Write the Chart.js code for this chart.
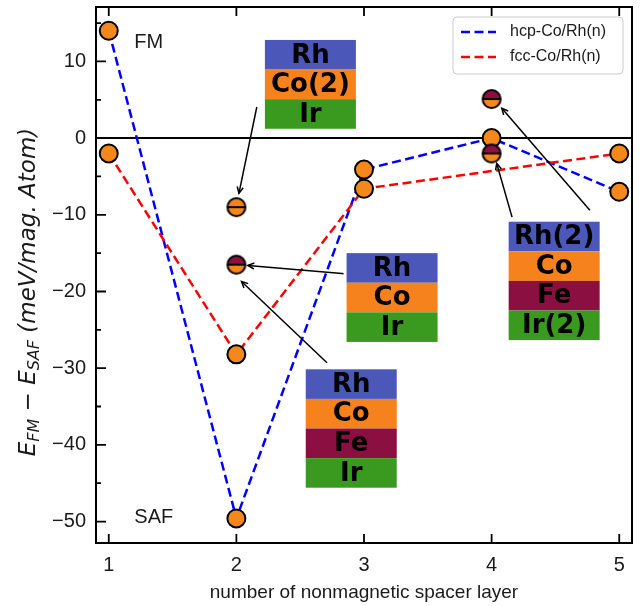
<!DOCTYPE html>
<html>
<head>
<meta charset="utf-8">
<script src="https://cdn.jsdelivr.net/npm/chart.js@4.4.0/dist/chart.umd.min.js"></script>
<style>
  body { margin: 0; background: #fff; }
  #wrap { width: 642px; height: 606px; }
</style>
</head>
<body>
<div id="wrap"><canvas id="c" width="642" height="606"></canvas></div>
<script>
// data
const layers = [1, 2, 3, 4, 5];
const hcpVals = [14.0, -49.6, -4.1, 0.0, -7.0];
const fccVals = [-2.0, -28.2, -6.6, null, -2.0];

// doped stacks, drawn with half filled markers
const dopedX = [2, 2, 4, 4];
const dopedY = [-9.0, -16.5, -2.0, 5.1];
const dopedTop = ['Co', 'Fe', 'Fe', 'Fe'];

const xTicks = [1, 2, 3, 4, 5];
const yTicks = [-50, -40, -30, -20, -10, 0, 10];
const yMinor = [-45, -35, -25, -15, -5, 5, 15];

const legendOrder = ['hcp-Co/Rh(n)', 'fcc-Co/Rh(n)'];

const stackLabels = [
  ['Rh', 'Co(2)', 'Ir'],
  ['Rh', 'Co', 'Ir'],
  ['Rh', 'Co', 'Fe', 'Ir'],
  ['Rh(2)', 'Co', 'Fe', 'Ir(2)']
];
// where each stack sits (center x, top y) in data units
const stackAt = [[2.58, 12.8], [3.22, -15.0], [2.90, -30.15], [4.49, -10.9]];
// arrows: from -> to, data units
const arrows = [
  [[2.16, 4.06], [2.02, -7.2]],
  [[2.85, -17.7], [2.09, -16.6]],
  [[2.71, -29.3], [2.04, -18.7]],
  [[4.16, -10.3], [4.04, -3.3]],
  [[4.77, -9.4], [4.08, 3.9]]
];
const notes = [['FM', 1.2, 11.7], ['SAF', 1.2, -50.2]];

const elemColor = { Rh: '#4c58b9', Co: '#f5821c', Fe: '#8c0f41', Ir: '#3a9a20' };
const face = '#f5881c';
const dash = [9, 4.5];

function halfMarker(topCol) {
  const r = 9, s = 24, c = s / 2;
  const cv = document.createElement('canvas');
  cv.width = s; cv.height = s;
  const g = cv.getContext('2d');
  g.fillStyle = face;
  g.beginPath(); g.arc(c, c, r, 0, 2 * Math.PI); g.fill();
  g.fillStyle = topCol;
  g.beginPath(); g.arc(c, c, r, Math.PI, 2 * Math.PI); g.closePath(); g.fill();
  g.strokeStyle = '#000'; g.lineWidth = 2;
  g.beginPath(); g.moveTo(c - r, c); g.lineTo(c + r, c); g.stroke();
  g.beginPath(); g.arc(c, c, r, 0, 2 * Math.PI); g.stroke();
  return cv;
}
const dopedMarkers = dopedTop.map(e => halfMarker(elemColor[e]));

const minus = v => String(v).replace('-', '\u2212');

const decor = {
  id: 'decor',
  beforeDatasetsDraw(chart) {
    const { ctx, chartArea: a, scales: { y } } = chart;
    const y0 = y.getPixelForValue(0);
    ctx.save();
    ctx.strokeStyle = '#000'; ctx.lineWidth = 2;
    ctx.beginPath(); ctx.moveTo(a.left, y0); ctx.lineTo(a.right, y0); ctx.stroke();
    ctx.restore();
  },
  afterDatasetsDraw(chart) {
    const { ctx, chartArea: a, scales: { x, y } } = chart;
    ctx.save();

    // arrows
    ctx.strokeStyle = '#000'; ctx.lineWidth = 1.5;
    arrows.forEach(([p, q]) => {
      const x1 = x.getPixelForValue(p[0]), y1 = y.getPixelForValue(p[1]);
      const x2 = x.getPixelForValue(q[0]), y2 = y.getPixelForValue(q[1]);
      const ang = Math.atan2(y2 - y1, x2 - x1);
      ctx.beginPath(); ctx.moveTo(x1, y1); ctx.lineTo(x2, y2); ctx.stroke();
      ctx.beginPath();
      ctx.moveTo(x2 - 7 * Math.cos(ang - 0.45), y2 - 7 * Math.sin(ang - 0.45));
      ctx.lineTo(x2, y2);
      ctx.lineTo(x2 - 7 * Math.cos(ang + 0.45), y2 - 7 * Math.sin(ang + 0.45));
      ctx.stroke();
    });

    // layer stacks
    const w = 91, rh = 29.6;
    ctx.font = 'bold 26px "DejaVu Sans"';
    ctx.textAlign = 'center'; ctx.textBaseline = 'middle';
    stackLabels.forEach((rows, i) => {
      const cx = x.getPixelForValue(stackAt[i][0]);
      const top = y.getPixelForValue(stackAt[i][1]);
      ctx.fillStyle = '#fff';
      ctx.fillRect(cx - w / 2 - 3, top - 3, w + 6, rows.length * rh + 6);
      rows.forEach((lab, j) => {
        ctx.fillStyle = elemColor[lab.replace(/\(.*\)/, '')];
        ctx.fillRect(cx - w / 2, top + j * rh, w, rh);
        ctx.fillStyle = '#000';
        ctx.fillText(lab, cx, top + j * rh + rh / 2 + 1);
      });
    });

    // FM / SAF
    ctx.font = '20px "Liberation Sans"';
    ctx.textAlign = 'left'; ctx.textBaseline = 'alphabetic';
    ctx.fillStyle = '#1a1a1a';
    notes.forEach(([t, vx, vy]) => ctx.fillText(t, x.getPixelForValue(vx), y.getPixelForValue(vy)));

    // legend
    const lx = a.right - 179, ly = a.top + 10, lw = 170, lh = 57;
    ctx.fillStyle = 'rgba(255,255,255,0.8)';
    ctx.strokeStyle = '#cccccc'; ctx.lineWidth = 1;
    ctx.beginPath(); ctx.roundRect(lx, ly, lw, lh, 4); ctx.fill(); ctx.stroke();
    ctx.font = '16px "Liberation Sans"';
    ctx.textBaseline = 'middle';
    legendOrder.forEach((lab, i) => {
      const d = chart.data.datasets.find(s => s.label === lab);
      const yy = ly + 15 + i * 25;
      ctx.strokeStyle = d.borderColor; ctx.lineWidth = 2.5; ctx.setLineDash(dash);
      ctx.beginPath(); ctx.moveTo(lx + 8, yy); ctx.lineTo(lx + 43, yy); ctx.stroke();
      ctx.setLineDash([]);
      ctx.fillStyle = '#1a1a1a';
      ctx.fillText(lab, lx + 57, yy);
    });

    // frame and inward ticks
    ctx.strokeStyle = '#000'; ctx.lineWidth = 2;
    ctx.strokeRect(a.left, a.top, a.right - a.left, a.bottom - a.top);
    ctx.lineWidth = 1.8;
    ctx.beginPath();
    xTicks.forEach(v => {
      const px = x.getPixelForValue(v);
      ctx.moveTo(px, a.bottom); ctx.lineTo(px, a.bottom - 9);
      ctx.moveTo(px, a.top); ctx.lineTo(px, a.top + 9);
    });
    yTicks.forEach(v => {
      const py = y.getPixelForValue(v);
      ctx.moveTo(a.left, py); ctx.lineTo(a.left + 10, py);
    });
    yMinor.forEach(v => {
      const py = y.getPixelForValue(v);
      ctx.moveTo(a.left, py); ctx.lineTo(a.left + 5, py);
    });
    ctx.stroke();

    // x title
    ctx.font = '19px "Liberation Sans"';
    ctx.textAlign = 'center'; ctx.textBaseline = 'alphabetic';
    ctx.fillStyle = '#1a1a1a';
    ctx.fillText('number of nonmagnetic spacer layer', (a.left + a.right) / 2, 598);

    // y title with subscripts
    const fs = 23, ss = 16;
    const it = s => `italic ${s}px "DejaVu Sans"`;
    const parts = [
      [it(fs), 'E', 0], [it(ss), 'FM', 4], [`${fs}px "DejaVu Sans"`, ' \u2212 ', 0],
      [it(fs), 'E', 0], [it(ss), 'SAF', 4], [it(fs), ' (meV/mag. Atom)', 0]
    ];
    let total = 0;
    parts.forEach(p => { ctx.font = p[0]; total += ctx.measureText(p[1]).width; });
    ctx.translate(35, 292);
    ctx.rotate(-Math.PI / 2);
    ctx.textAlign = 'left';
    let cur = -total / 2;
    parts.forEach(p => {
      ctx.font = p[0];
      ctx.fillText(p[1], cur, p[2]);
      cur += ctx.measureText(p[1]).width;
    });
    ctx.restore();
  }
};

const pts = vals => layers.map((v, i) => ({ x: v, y: vals[i] }));

new Chart(document.getElementById('c'), {
  type: 'scatter',
  data: {
    datasets: [
      {
        label: 'doped',
        data: dopedX.map((v, i) => ({ x: v, y: dopedY[i] })),
        showLine: false,
        pointRadius: 9,
        pointStyle: c => dopedMarkers[c.dataIndex]
      },
      {
        label: 'fcc-Co/Rh(n)',
        data: pts(fccVals),
        showLine: true, spanGaps: true,
        borderColor: '#ff0000', borderWidth: 2.5, borderDash: dash,
        pointRadius: 9, pointBorderWidth: 2,
        pointBackgroundColor: face, pointBorderColor: '#000'
      },
      {
        label: 'hcp-Co/Rh(n)',
        data: pts(hcpVals),
        showLine: true,
        borderColor: '#0000ff', borderWidth: 2.5, borderDash: dash,
        pointRadius: 9, pointBorderWidth: 2,
        pointBackgroundColor: face, pointBorderColor: '#000'
      }
    ]
  },
  options: {
    responsive: false,
    animation: false,
    events: [],
    layout: { autoPadding: false, padding: { top: 7, right: 10, left: 0, bottom: 0 } },
    plugins: { legend: { display: false }, tooltip: { enabled: false } },
    scales: {
      x: {
        type: 'linear', min: 0.9, max: 5.1,
        grid: { display: false, drawTicks: false },
        border: { display: false },
        afterBuildTicks: s => { s.ticks = xTicks.map(v => ({ value: v })); },
        afterFit: s => { s.height = 63; s.paddingLeft = 0; s.paddingRight = 0; },
        ticks: { color: '#1a1a1a', padding: 10, font: { family: 'Liberation Sans', size: 20 }, callback: v => minus(v) }
      },
      y: {
        min: -52.8, max: 17.1,
        grid: { display: false, drawTicks: false },
        border: { display: false },
        afterBuildTicks: s => { s.ticks = yTicks.map(v => ({ value: v })); },
        afterFit: s => { s.width = 96; s.paddingTop = 0; s.paddingBottom = 0; },
        ticks: { color: '#1a1a1a', padding: 10, font: { family: 'Liberation Sans', size: 20 }, callback: v => minus(v) }
      }
    }
  },
  plugins: [decor]
});
</script>
</body>
</html>
